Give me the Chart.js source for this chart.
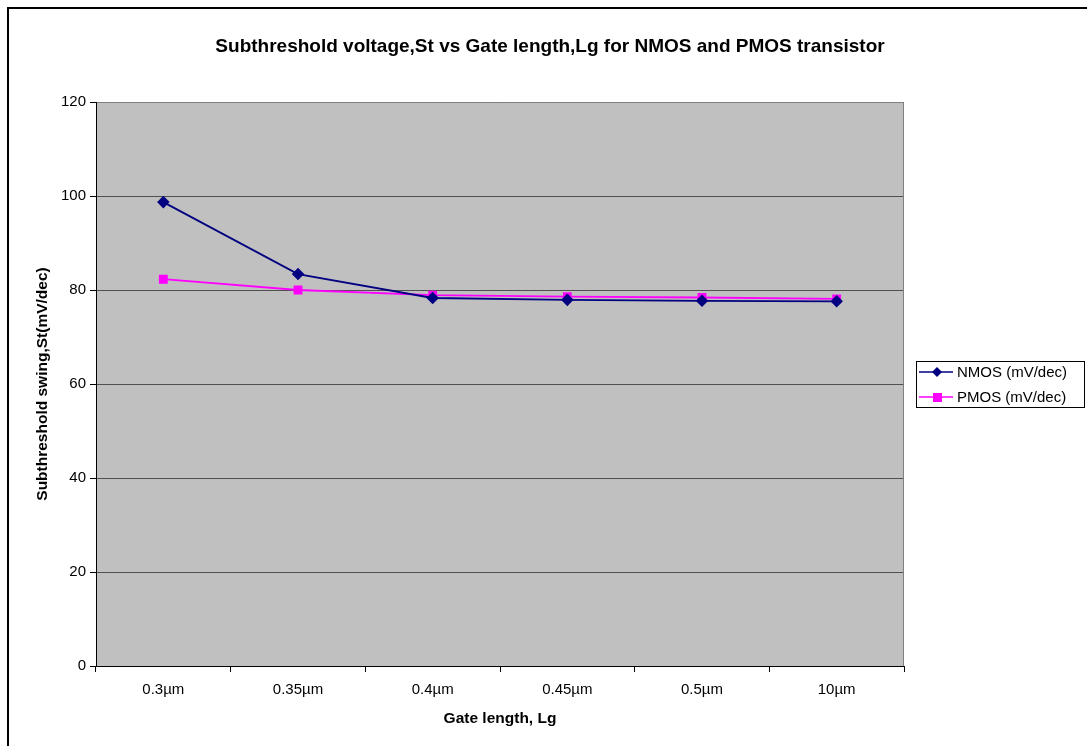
<!DOCTYPE html>
<html>
<head>
<meta charset="utf-8">
<script src="https://cdn.jsdelivr.net/npm/chart.js@4"></script>
<style>
  html, body { margin: 0; padding: 0; background: #fff; }
  #wrap { position: relative; width: 1087px; height: 746px; }
</style>
</head>
<body>
<div id="wrap"><canvas id="chart" width="1087" height="746"></canvas></div>
<script>
// Gate length categories
const gateLengths = ['0.3µm', '0.35µm', '0.4µm', '0.45µm', '0.5µm', '10µm'];
// Subthreshold swing (mV/dec)
const nmosSwing = [98.7, 83.4, 78.3, 77.9, 77.7, 77.6];
const pmosSwing = [82.3, 80.0, 78.9, 78.6, 78.4, 78.1];

const chartTitle = 'Subthreshold voltage,St vs Gate length,Lg for NMOS and PMOS transistor';
const FONT = 'Arial, "Liberation Sans", sans-serif';

// Grey plot area, outer frame, title and the boxed legend
const decorPlugin = {
    id: 'decor',
    beforeDraw(chart) {
        const { ctx, chartArea: a } = chart;
        ctx.save();
        ctx.fillStyle = '#c0c0c0';
        ctx.fillRect(a.left, a.top, a.right - a.left, a.bottom - a.top);
        // outer frame (top + left only visible)
        ctx.strokeStyle = '#000';
        ctx.lineWidth = 2;
        ctx.beginPath();
        ctx.moveTo(8, 746);
        ctx.lineTo(8, 8);
        ctx.lineTo(1087, 8);
        ctx.stroke();
        // title
        ctx.fillStyle = '#000';
        ctx.font = 'bold 19px ' + FONT;
        ctx.textAlign = 'center';
        ctx.textBaseline = 'middle';
        ctx.fillText(chartTitle, 550, 47);
        ctx.restore();
    },
    afterDraw(chart) {
        const { ctx, chartArea: a } = chart;
        ctx.save();
        // grey border on top / right of plot area
        ctx.strokeStyle = '#808080';
        ctx.lineWidth = 1;
        ctx.beginPath();
        ctx.moveTo(a.left, a.top + 0.5);
        ctx.lineTo(a.right - 0.5, a.top + 0.5);
        ctx.lineTo(a.right - 0.5, a.bottom);
        ctx.stroke();
        // axes lines
        ctx.strokeStyle = '#000';
        ctx.beginPath();
        ctx.moveTo(a.left + 0.5, a.top);
        ctx.lineTo(a.left + 0.5, a.bottom + 0.5);
        ctx.lineTo(a.right, a.bottom + 0.5);
        ctx.stroke();

        // legend
        const lx = 916, ly = 361, lw = 168, lh = 46;
        ctx.fillStyle = '#fff';
        ctx.fillRect(lx, ly, lw, lh);
        ctx.strokeStyle = '#000';
        ctx.strokeRect(lx + 0.5, ly + 0.5, lw, lh);
        ctx.font = '15px ' + FONT;
        ctx.textBaseline = 'middle';
        chart.data.datasets.forEach((ds, i) => {
            const y = ly + 11 + i * 25;
            ctx.strokeStyle = ds.borderColor;
            ctx.lineWidth = 1.5;
            ctx.beginPath();
            ctx.moveTo(lx + 3, y);
            ctx.lineTo(lx + 37, y);
            ctx.stroke();
            ctx.fillStyle = ds.pointBackgroundColor;
            const cx = lx + 21;
            if (ds.pointStyle === 'rect') {
                ctx.fillRect(cx - 4, y - 4, 9, 9);
            } else {
                ctx.beginPath();
                ctx.moveTo(cx, y - 5);
                ctx.lineTo(cx + 5, y);
                ctx.lineTo(cx, y + 5);
                ctx.lineTo(cx - 5, y);
                ctx.closePath();
                ctx.fill();
            }
            ctx.fillStyle = '#000';
            ctx.fillText(ds.label, lx + 41, y + 1);
        });
        ctx.restore();
    }
};

new Chart(document.getElementById('chart'), {
    type: 'line',
    data: {
        labels: gateLengths,
        datasets: [
            {
                label: 'NMOS (mV/dec)', data: nmosSwing,
                borderColor: '#000080', backgroundColor: '#000080',
                pointBackgroundColor: '#000080', pointBorderColor: '#000080',
                pointStyle: 'rectRot', pointRadius: 5, borderWidth: 1.8
            },
            {
                label: 'PMOS (mV/dec)', data: pmosSwing,
                borderColor: '#ff00ff', backgroundColor: '#ff00ff',
                pointBackgroundColor: '#ff00ff', pointBorderColor: '#ff00ff',
                pointStyle: 'rect', pointRadius: 5, borderWidth: 1.8
            }
        ]
    },
    options: {
        responsive: false,
        animation: false,
        devicePixelRatio: 1,
        layout: { padding: { top: 102, left: 29, right: 183, bottom: 0 } },
        plugins: {
            legend: { display: false },
            tooltip: { enabled: false },
            title: { display: false }
        },
        scales: {
            x: {
                offset: true,
                grid: { offset: true, drawOnChartArea: false, color: '#000', tickLength: 6 },
                border: { display: false },
                ticks: { color: '#000', font: { family: FONT, size: 15 }, padding: 9 },
                title: {
                    display: true, text: 'Gate length, Lg', color: '#000',
                    font: { family: FONT, size: 15.5, weight: 'bold' }, padding: { top: 4, bottom: 18 }
                },
                afterFit(scale) { scale.height = 80; }
            },
            y: {
                min: 0, max: 120,
                ticks: { stepSize: 20, color: '#000', font: { family: FONT, size: 15 }, padding: 4 },
                grid: { color: '#505050', tickColor: '#000', tickLength: 6 },
                border: { display: false },
                title: {
                    display: true, text: 'Subthreshold swing,St(mV/dec)', color: '#000',
                    font: { family: FONT, size: 15.5, weight: 'bold' }
                },
                afterFit(scale) { scale.width = 67; }
            }
        }
    },
    plugins: [decorPlugin]
});
</script>
</body>
</html>
